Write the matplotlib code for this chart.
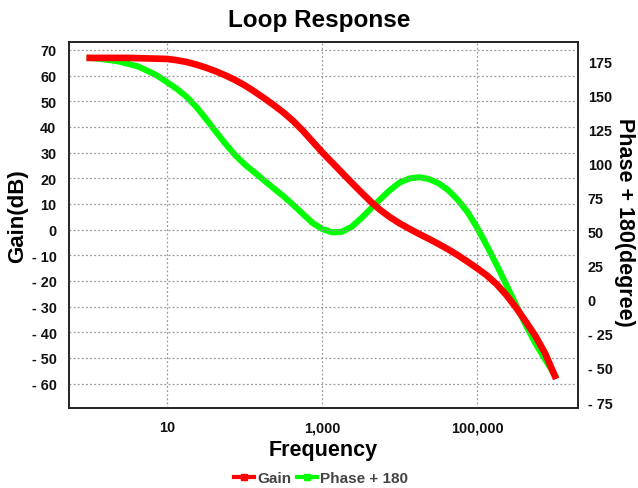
import matplotlib
matplotlib.use("Agg")
import matplotlib.pyplot as plt
from matplotlib.lines import Line2D

plt.rcParams['font.family'] = ['Liberation Sans', 'DejaVu Sans']

# frequency readings, every 1/8 decade from 1 Hz to 1 MHz
log_freq = [0.0, 0.125, 0.25, 0.375, 0.5, 0.625, 0.75, 0.875,
            1.0, 1.125, 1.25, 1.375, 1.5, 1.625, 1.75, 1.875,
            2.0, 2.125, 2.25, 2.375, 2.5, 2.625, 2.75, 2.875,
            3.0, 3.125, 3.25, 3.375, 3.5, 3.625, 3.75, 3.875,
            4.0, 4.125, 4.25, 4.375, 4.5, 4.625, 4.75, 4.875,
            5.0, 5.125, 5.25, 5.375, 5.5, 5.625, 5.75, 5.875, 6.0]
freq = [10 ** v for v in log_freq]
gain_db = [66.9, 66.9, 66.9, 66.9, 66.9, 66.8, 66.7, 66.6,
           66.5, 66.0, 65.3, 64.3, 63.1, 61.7, 60.1, 58.3,
           56.2, 53.8, 51.2, 48.5, 45.6, 42.3, 38.5, 34.3,
           30.1, 26.2, 22.3, 18.4, 14.6, 10.9, 7.6, 4.8,
           2.4, 0.3, -1.7, -3.6, -5.6, -7.7, -10.0, -12.5,
           -15.1, -17.9, -21.3, -25.5, -30.4, -35.8, -41.5, -48.2, -57.0]
phase_180 = [177.6, 177.0, 176.1, 175.0, 173.2, 171.3, 168.0, 164.4,
             159.7, 154.8, 149.0, 141.6, 132.8, 123.6, 114.6, 106.3,
             99.4, 93.6, 87.6, 81.8, 76.0, 69.7, 63.0, 56.4,
             52.0, 49.6, 49.9, 53.5, 59.8, 66.9, 74.0, 80.7,
             86.2, 89.1, 90.0, 88.7, 85.6, 80.5, 73.3, 64.3,
             52.8, 39.5, 25.6, 10.9, -3.8, -18.5, -32.0, -43.8, -55.2]

gain_ticks = [70, 60, 50, 40, 30, 20, 10, 0, -10, -20, -30, -40, -50, -60]
phase_ticks = [175, 150, 125, 100, 75, 50, 25, 0, -25, -50, -75]
freq_ticks = [10, 1000, 100000]
freq_tick_labels = ["10", "1,000", "100,000"]


def lab(v):
    return f"- {abs(v)}" if v < 0 else f"{v}"


W, H = 638, 489
fig = plt.figure(figsize=(W / 100, H / 100), dpi=100)
ax = fig.add_axes([69 / W, 1 - 409 / H, (578 - 69) / W, (409 - 43) / H])
ax2 = ax.twinx()
ax.set_zorder(ax2.get_zorder() + 1)
ax.patch.set_visible(False)

ax.set_xscale('log')
ax.set_xlim(10 ** -0.268, 10 ** 6.299)
ax.set_ylim(-69.5, 73.1)
ax2.set_ylim(-79.4, 189.3)

ax2.plot(freq, phase_180, color='#00FF00', lw=4.4, solid_capstyle='projecting',
         solid_joinstyle='round')
ax.plot(freq, gain_db, color='#FF0000', lw=4.8, solid_capstyle='projecting',
        solid_joinstyle='round')

ax.set_xticks(freq_ticks)
ax.set_xticklabels(freq_tick_labels)
ax.xaxis.set_minor_locator(matplotlib.ticker.NullLocator())
ax.set_yticks(gain_ticks)
ax.set_yticklabels([lab(v) for v in gain_ticks])
ax2.set_yticks(phase_ticks)
ax2.set_yticklabels([lab(v) for v in phase_ticks])

for a in (ax, ax2):
    a.tick_params(length=0, labelsize=10.4, colors='#111111')
    for t in a.get_xticklabels() + a.get_yticklabels():
        t.set_fontweight('bold')
ax.tick_params(axis='x', pad=9)
ax.tick_params(axis='y', pad=9)
ax2.tick_params(axis='y', pad=7)

ax.grid(True, color='#999999', linestyle=(0, (1.5, 1.8)), linewidth=0.9)
for a in (ax, ax2):
    for s in a.spines.values():
        s.set_color('#222222')
        s.set_linewidth(1.2)

ax.set_xlabel('Frequency', fontsize=15.5, fontweight='bold', labelpad=3)
fig.text(18 / W, 1 - 216 / H, 'Gain(dB)', rotation=90, ha='center', va='center',
         fontsize=16, fontweight='bold')
fig.text(624 / W, 1 - 222 / H, 'Phase + 180(degree)', rotation=270, ha='center',
         va='center', fontsize=15.5, fontweight='bold')
fig.text(0.5, 1 - 20 / H, 'Loop Response', ha='center', va='center',
         fontsize=17.5, fontweight='bold')

handles = [Line2D([], [], color='#FF0000', lw=3, marker='s', markersize=5),
           Line2D([], [], color='#00FF00', lw=3, marker='s', markersize=5)]
leg = fig.legend(handles, ['Gain', 'Phase + 180'], loc='center', ncol=2,
                 bbox_to_anchor=(321 / W, 1 - 479 / H), frameon=False,
                 handlelength=1.3, handletextpad=0.2, columnspacing=0.4,
                 prop={'size': 11, 'weight': 'bold'})
for t in leg.get_texts():
    t.set_color('#444444')

fig.savefig('out.png', dpi=100)
